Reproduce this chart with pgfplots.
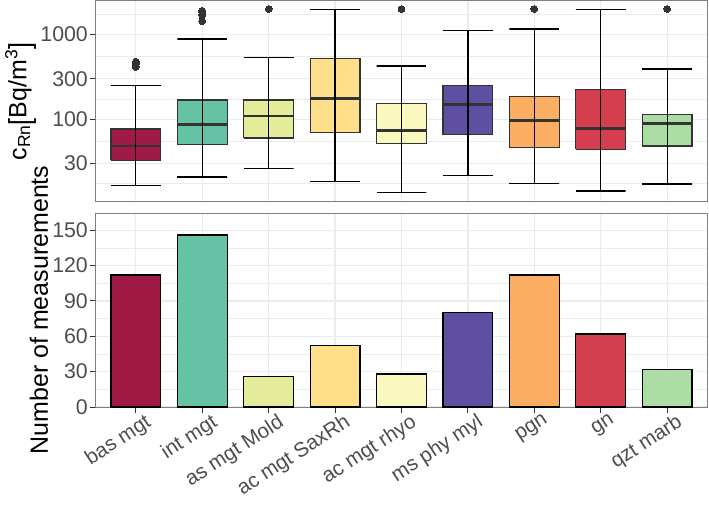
\documentclass[border=0pt]{standalone}
\usepackage{fontspec}
\setmainfont{Liberation Sans}
\usepackage{graphicx}
\usepackage{pgfplots}
\pgfplotsset{compat=1.18}
\definecolor{c1}{HTML}{9F1B46}
\definecolor{c2}{HTML}{66C2A5}
\definecolor{c3}{HTML}{E4EC9A}
\definecolor{c4}{HTML}{FEE08B}
\definecolor{c5}{HTML}{FBF8BF}
\definecolor{c6}{HTML}{5E4FA2}
\definecolor{c7}{HTML}{FBAE61}
\definecolor{c8}{HTML}{D53E4F}
\definecolor{c9}{HTML}{ABDDA4}
\definecolor{dg}{HTML}{333333}
\definecolor{frame}{HTML}{808080}
\definecolor{gridc}{HTML}{EBEBEB}
\definecolor{tlc}{HTML}{4D4D4D}
\pgfplotsset{
  common/.style={
    scale only axis, width=611pt,
    xmin=0.4, xmax=9.6, xtick={1,...,9},
    axis line style={draw=frame, line width=1pt},
    tick align=outside, major tick length=6pt, minor tick length=0pt,
    tick style={draw=dg, line width=1pt},
    tick pos=left,
    xmajorgrids, ymajorgrids, yminorgrids,
    major grid style={draw=gridc, line width=1.2pt},
    minor grid style={draw=gridc, line width=0.6pt},
    ticklabel style={font=\fontsize{21.3}{25}\selectfont, text=tlc},
    yticklabel style={inner sep=2pt},
    /pgf/number format/assume math mode=true,
    label style={font=\fontsize{25}{30}\selectfont, text=black},
    ylabel style={inner sep=2pt},
  },
  br/.style={ybar, bar width=0.75, bar shift=0pt, fill=#1, draw=black, line width=1.2pt},
}
% box: colour, left x, right x, Q1, median, Q3
\newcommand\bxp[6]{%
  \addplot[draw=dg, line width=1.2pt, fill=#1, line join=miter] coordinates {(#2,#4) (#3,#4) (#3,#6) (#2,#6) (#2,#4)};
  \addplot[draw=dg, line width=2.8pt] coordinates {(#2,#5) (#3,#5)};
}
% whisker: left x, centre x, right x, lower, upper
\newcommand\wsk[5]{%
  \addplot[draw=black, line width=1.3pt] coordinates {(#1,#4) (#3,#4) (#2,#4) (#2,#5) (#1,#5) (#3,#5)};
}
\begin{document}
\begin{tikzpicture}
\path[use as bounding box] (0pt,0pt) rectangle (709pt,-505pt);
\begin{axis}[common, at={(96pt,-1pt)}, anchor=north west, height=201pt,
  ymode=log, ymin=10.5, ymax=2500,
  ytick={30,100,300,1000}, yticklabels={30,100,300,1000},
  minor ytick={17.32,54.77,173.2,547.7,1732},
  xticklabels={}, xtick style={draw=none},
  ylabel={c\textsubscript{Rn}\raisebox{-0.14em}{\scalebox{1}[1.2]{[}}Bq/m\textsuperscript{3}\raisebox{-0.14em}{\scalebox{1}[1.2]{]}}},
]
\bxp{c1}{0.625}{1.375}{32.8}{48.3}{76.8}
\bxp{c2}{1.625}{2.375}{50.6}{87.3}{169}
\bxp{c3}{2.625}{3.375}{60.1}{109}{169}
\bxp{c4}{3.625}{4.375}{69.5}{177}{526}
\bxp{c5}{4.625}{5.375}{51.1}{74.1}{153}
\bxp{c6}{5.625}{6.375}{65.8}{150}{250}
\bxp{c7}{6.625}{7.375}{46.7}{97.3}{187}
\bxp{c8}{7.625}{8.375}{44.2}{78.3}{224}
\bxp{c9}{8.625}{9.375}{48.3}{89.7}{114.6}
\wsk{0.625}{1}{1.375}{16.6}{252}
\wsk{1.625}{2}{2.375}{20.8}{890}
\wsk{2.625}{3}{3.375}{25.9}{535}
\wsk{3.625}{4}{4.375}{18.3}{1995}
\wsk{4.625}{5}{5.375}{13.6}{427}
\wsk{5.625}{6}{6.375}{21.5}{1128}
\wsk{6.625}{7}{7.375}{17.3}{1168}
\wsk{7.625}{8}{8.375}{14.2}{1995}
\wsk{8.625}{9}{9.375}{17.1}{393}
\addplot[only marks, mark=*, mark size=3.4pt, mark options={draw=dg, fill=dg, line width=0pt}] coordinates {
(1,480) (1,450) (1,415)
(2,1920) (2,1820) (2,1722) (2,1440)
(3,2013) (5,2013) (7,2013) (9,2013)
};
\end{axis}
\begin{axis}[common, at={(96pt,-213pt)}, anchor=north west, height=194pt,
  ymin=0, ymax=164.7,
  ytick={0,30,60,90,120,150},
  minor ytick={15,45,75,105,135,165},
  xticklabels={bas mgt, int mgt, as mgt Mold, ac mgt SaxRh, ac mgt rhyo, ms phy myl, pgn, gn, qzt marb},
  xticklabel style={font=\fontsize{20.6}{24}\selectfont, rotate=33, anchor=north east, inner sep=1pt, xshift=8pt, yshift=-3pt},
  ylabel={Number of measurements},
]
\addplot[br=c1] coordinates {(1,112)};
\addplot[br=c2] coordinates {(2,146)};
\addplot[br=c3] coordinates {(3,26)};
\addplot[br=c4] coordinates {(4,52)};
\addplot[br=c5] coordinates {(5,28)};
\addplot[br=c6] coordinates {(6,80)};
\addplot[br=c7] coordinates {(7,112)};
\addplot[br=c8] coordinates {(8,62)};
\addplot[br=c9] coordinates {(9,32)};
\end{axis}
\end{tikzpicture}
\end{document}
